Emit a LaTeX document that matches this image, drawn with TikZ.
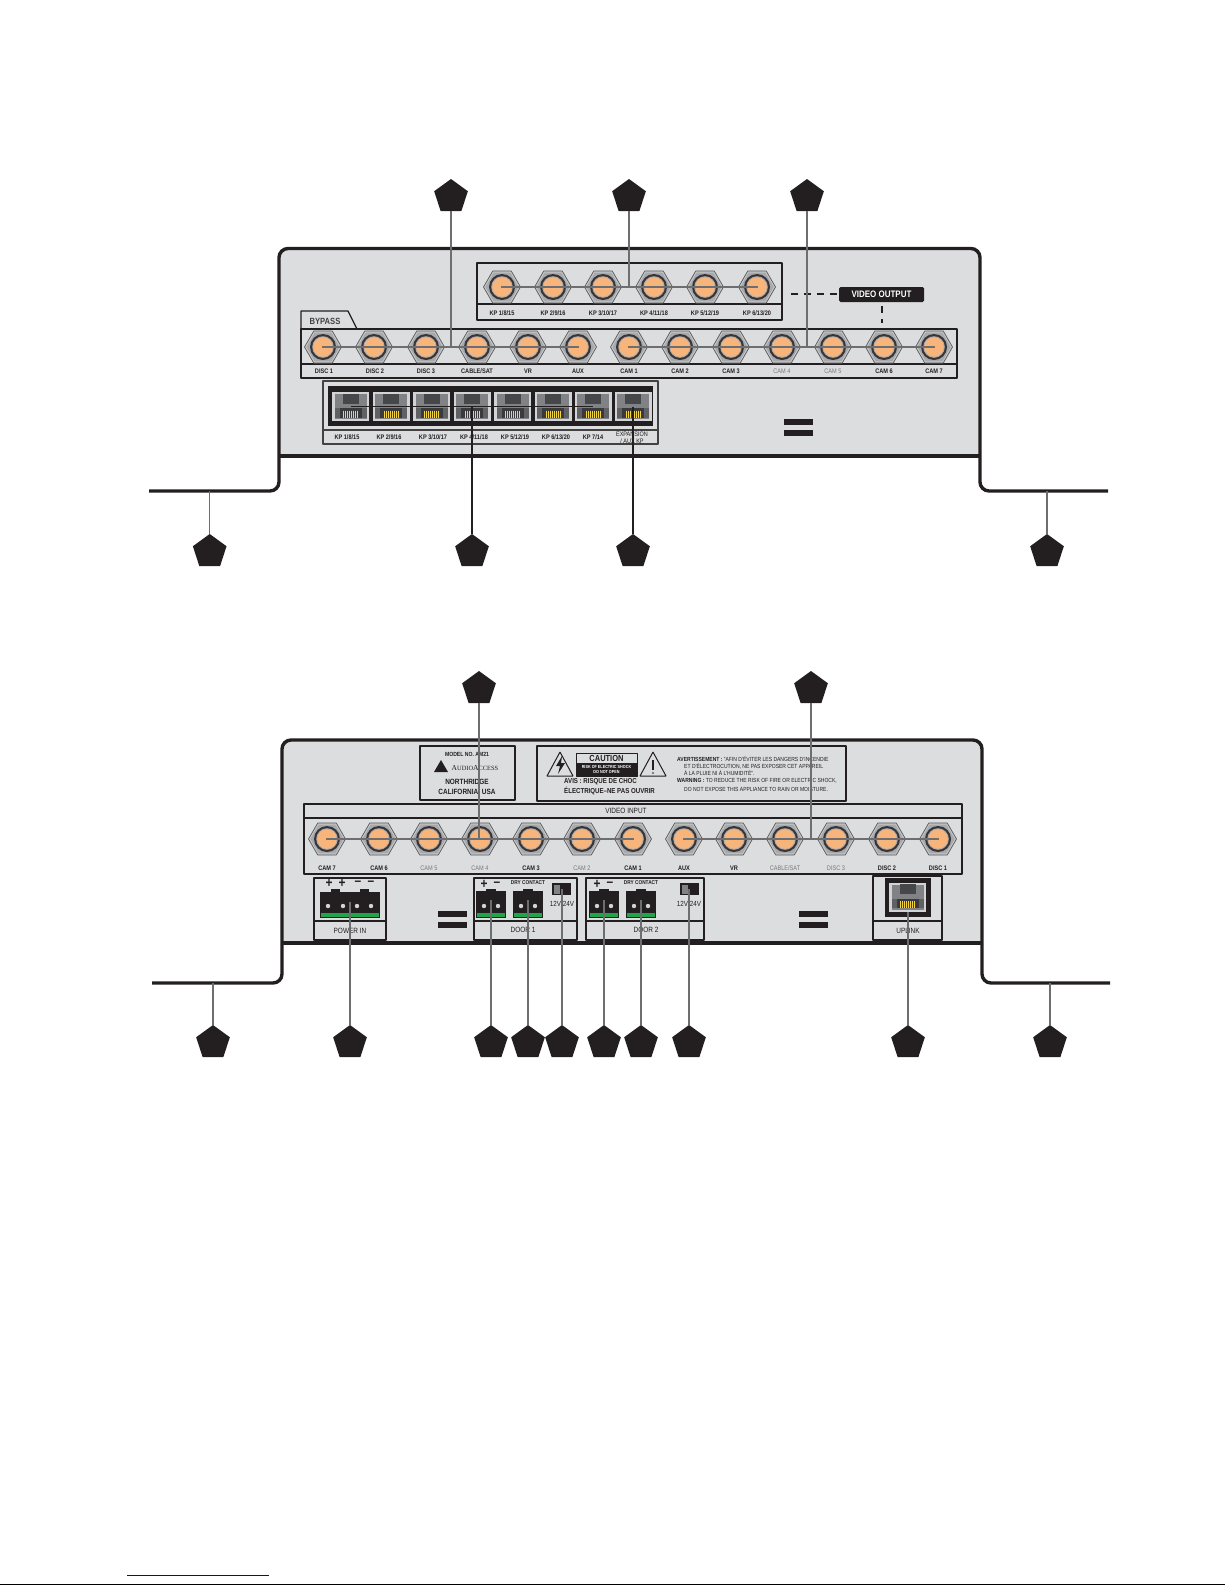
\documentclass[tikz,border=0pt]{standalone}
\usepackage{fontspec}
\setmainfont{Liberation Sans}[FakeStretch=0.85]
\newfontfamily\logofont{Liberation Serif}
\usetikzlibrary{shapes.geometric}
\definecolor{panelgray}{HTML}{DCDDDE}
\definecolor{inkdark}{HTML}{231F20}
\definecolor{leadgray}{HTML}{6D6E71}
\definecolor{nutgray}{HTML}{C4C5C7}
\definecolor{nutface}{HTML}{A7A9AC}
\definecolor{nutedge}{HTML}{58595B}
\definecolor{bncorange}{HTML}{F7B57C}
\definecolor{jackgray}{HTML}{808285}
\definecolor{jackrim}{HTML}{D1D3D4}
\definecolor{termgreen}{HTML}{1FA64A}
\definecolor{pinyellow}{HTML}{F4D63C}
\definecolor{fadetext}{HTML}{77787B}
\tikzset{
  bodyline/.style={line width=3.4pt,draw=inkdark,rounded corners=9pt},
  boxline/.style={line width=1.7pt,draw=inkdark},
  leadline/.style={line width=1.5pt,draw=leadgray},
  blackline/.style={line width=1.5pt,draw=inkdark},
  dashline/.style={line width=2pt,draw=inkdark,dash pattern=on 7pt off 6pt},
  callout/.style={shape=regular polygon,regular polygon sides=5,minimum size=35.4pt,inner sep=0pt,outer sep=0pt,fill=inkdark},
  tag/.style={font=\fontsize{6.6}{7.2}\selectfont\bfseries,text=inkdark,inner sep=0pt,align=center},
  fadetag/.style={font=\fontsize{6.6}{7.2}\selectfont,text=fadetext,inner sep=0pt},
  boxtitle/.style={font=\fontsize{7.6}{9}\selectfont\bfseries,text=inkdark,inner sep=0pt},
  signmark/.style={font=\fontsize{14}{14}\selectfont\bfseries,text=inkdark,inner sep=0pt},
  fineprint/.style={font=\fontsize{5.9}{6.4}\selectfont,text=inkdark,inner sep=0pt,anchor=west},
  bnc/.style={shape=regular polygon,regular polygon sides=6,minimum size=37pt,inner sep=0pt,outer sep=0pt,fill=nutgray,draw=nutedge,line width=0.7pt,
    path picture={
      \begin{scope}[shift={(path picture bounding box.center)}]
        \fill[nutface] (16.6,0) -- (8.3,14.4) -- (-8.3,14.4) -- (-16.6,0) -- (-8.3,-14.4) -- (8.3,-14.4) -- cycle;
        \fill[inkdark!90] (0,0) circle (13pt);
        \fill[nutface] (0,0) circle (10.8pt);
        \fill[bncorange] (0,0) circle (9.8pt);
        \fill[inkdark] (0,0) circle (0.9pt);
      \end{scope}
    }},
  jack/.style={shape=rectangle,minimum width=37pt,minimum height=29pt,inner sep=0pt,outer sep=0pt,fill=jackrim,
    path picture={
      \begin{scope}[shift={(path picture bounding box.center)}]
        \fill[jackgray] (-16,-12.5) rectangle (16,12.5);
        \fill[black!45!jackgray] (-8,-13) rectangle (8,-3);
        \fill[black!25!jackgray] (-16,1.5) rectangle (16,11);
        \fill[black!55!jackgray] (-11,1.5) rectangle (11,11);
        \draw[pinyellow,line width=0.6pt] (-7,4) -- (-7,11) (-5,4) -- (-5,11) (-3,4) -- (-3,11) (-1,4) -- (-1,11) (1,4) -- (1,11) (3,4) -- (3,11) (5,4) -- (5,11) (7,4) -- (7,11);
      \end{scope}
    }},
  dipswitch/.style={shape=rectangle,minimum width=19pt,minimum height=12pt,inner sep=0pt,outer sep=0pt,fill=inkdark,
    path picture={
      \fill[jackgray] ([shift={(-7.5,-4.5)}]path picture bounding box.center) rectangle ([shift={(-1.5,4.5)}]path picture bounding box.center);
    }},
  plugtwo/.pic={
    \fill[inkdark] (-15,-14) rectangle (15,13);
    \fill[inkdark] (-5,-16) rectangle (5,-14);
    \fill[termgreen] (-14,8) rectangle (14,12);
    \fill[jackrim] (-7,1) circle (2.2pt);
    \fill[jackrim] (7,1) circle (2.2pt);
    \coordinate (-tap) at (0,-5);
  },
  plugfour/.pic={
    \fill[inkdark] (-30,-13) rectangle (30,13);
    \fill[inkdark] (-19,-16) rectangle (-10,-13);
    \fill[inkdark] (10,-16) rectangle (19,-13);
    \fill[termgreen] (-29,8) rectangle (29,12);
    \fill[jackrim] (-22,1) circle (2.2pt);
    \fill[jackrim] (-7,1) circle (2.2pt);
    \fill[jackrim] (7,1) circle (2.2pt);
    \fill[jackrim] (21,1) circle (2.2pt);
    \coordinate (-tap) at (0,-3);
  },
}
\begin{document}
\begin{tikzpicture}[x=1pt,y=-1pt,line join=bevel,]
  \useasboundingbox (0,0) rectangle (1225,1585);
%%
  % Body: upper panel
  \fill[panelgray,rounded corners=9pt] (279,456) -- (279,248.5) -- (980,248.5) -- (980,456) -- cycle;
  \fill[panelgray] (279,440) rectangle (980,456);
  \draw[bodyline] (149,491) -- (279,491) -- (279,248.5) -- (980,248.5) -- (980,491) -- (1108,491);
  \draw[line width=3.4pt,draw=inkdark] (279,456) -- (980,456);
  % Node: upper keypad outputs
  \draw[boxline] (477,263) rectangle (782,320);
  \draw[boxline] (477,304) -- (782,304);
  \node[bnc] (outKpA) at (502,287) {};
  \node[bnc] (outKpB) at (553,287) {};
  \node[bnc] (outKpC) at (603,287) {};
  \node[bnc] (outKpD) at (654,287) {};
  \node[bnc] (outKpE) at (705,287) {};
  \node[bnc] (outKpF) at (757,287) {};
  \node[tag] (lblOutKpA) at (502,313) {KP 1/8/15};
  \node[tag] (lblOutKpB) at (553,313) {KP 2/9/16};
  \node[tag] (lblOutKpC) at (603,313) {KP 3/10/17};
  \node[tag] (lblOutKpD) at (654,313) {KP 4/11/18};
  \node[tag] (lblOutKpE) at (705,313) {KP 5/12/19};
  \node[tag] (lblOutKpF) at (757,313) {KP 6/13/20};
  % Node: video output flag
  \node[shape=rectangle,fill=inkdark,rounded corners=1.5pt,minimum width=85pt,minimum height=15pt,inner sep=0pt,text=white,font=\fontsize{9.4}{10}\selectfont\bfseries] (vidOut) at (881.5,294.5) {VIDEO OUTPUT};
  \coordinate (dashLeft) at (788,294);
  \coordinate (dashDown) at (881.5,323);
  \draw[dashline] ([xshift=-2pt,yshift=0.5pt]vidOut.west) -- (dashLeft);
  \draw[dashline] ([yshift=-4pt]vidOut.south) -- (dashDown);
  % Node: bypass row
  \draw[line width=1.2pt,draw=inkdark] (301,329) -- (301,311) -- (348,311) -- (357,329);
  \node[boxtitle,font=\fontsize{9}{10}\selectfont\bfseries,text=inkdark!85] (lblBypass) at (325,321) {BYPASS};
  \draw[boxline] (301,329) rectangle (957,378);
  \draw[boxline] (301,364) -- (957,364);
  \node[bnc] (byDiscA) at (323,347) {};
  \node[bnc] (byDiscB) at (374,347) {};
  \node[bnc] (byDiscC) at (426,347) {};
  \node[bnc] (byCable) at (477,347) {};
  \node[bnc] (byVr) at (528,347) {};
  \node[bnc] (byAux) at (578,347) {};
  \node[bnc] (byCamA) at (629,347) {};
  \node[bnc] (byCamB) at (680,347) {};
  \node[bnc] (byCamC) at (731,347) {};
  \node[bnc] (byCamD) at (782,347) {};
  \node[bnc] (byCamE) at (833,347) {};
  \node[bnc] (byCamF) at (884,347) {};
  \node[bnc] (byCamG) at (934,347) {};
  \node[tag] (lblDiscA) at (324,371) {DISC 1};
  \node[tag] (lblDiscB) at (375,371) {DISC 2};
  \node[tag] (lblDiscC) at (426,371) {DISC 3};
  \node[tag] (lblCable) at (477,371) {CABLE/SAT};
  \node[tag] (lblVr) at (528,371) {VR};
  \node[tag] (lblAux) at (578,371) {AUX};
  \node[tag] (lblCamA) at (629,371) {CAM 1};
  \node[tag] (lblCamB) at (680,371) {CAM 2};
  \node[tag] (lblCamC) at (731,371) {CAM 3};
  \node[fadetag] (lblCamD) at (782,371) {CAM 4};
  \node[fadetag] (lblCamE) at (833,371) {CAM 5};
  \node[tag] (lblCamF) at (884,371) {CAM 6};
  \node[tag] (lblCamG) at (934,371) {CAM 7};
  % Node: keypad sockets
  \draw[line width=1.4pt,draw=inkdark!85] (323,381) rectangle (658,444);
  \draw[line width=1.4pt,draw=inkdark!85] (323,430) -- (658,430);
  \fill[inkdark] (328,386) rectangle (653,426);
  \node[jack] (sockA) at (350.5,406.5) {};
  \node[jack] (sockB) at (391,406.5) {};
  \node[jack] (sockC) at (431.5,406.5) {};
  \node[jack] (sockD) at (472,406.5) {};
  \node[jack] (sockE) at (512.5,406.5) {};
  \node[jack] (sockF) at (553,406.5) {};
  \node[jack] (sockG) at (593,406.5) {};
  \node[jack] (sockH) at (633,406.5) {};
  \node[tag] (lblSockA) at (347,437) {KP 1/8/15};
  \node[tag] (lblSockB) at (389,437) {KP 2/9/16};
  \node[tag] (lblSockC) at (433,437) {KP 3/10/17};
  \node[tag] (lblSockD) at (474,437) {KP 4/11/18};
  \node[tag] (lblSockE) at (515,437) {KP 5/12/19};
  \node[tag] (lblSockF) at (556,437) {KP 6/13/20};
  \node[tag] (lblSockG) at (593,437) {KP 7/14};
  \node[tag,font=\fontsize{6.5}{7}\selectfont] (lblSockH) at (632,437.5) {EXPANSION\\/ AUX KP};
  % Node: upper badge
  \fill[inkdark] (784,419) rectangle (813,425);
  \fill[inkdark] (784,430) rectangle (813,436);
  % Edge: upper rows
  \draw[leadline] (outKpA.center) -- (outKpF.center);
  \draw[leadline] (byDiscA.center) -- (byAux.center);
  \draw[leadline] (byCamA.center) -- (byCamG.center);
  \draw[blackline] (sockA.center) -- (sockG.center);
  % Node: upper callouts
  \node[callout] (callBypass) at (451,196.7) {};
  \node[callout] (callOutKp) at (629,196.7) {};
  \node[callout] (callCam) at (807,196.7) {};
  \node[callout] (callTailL) at (209.7,551.7) {};
  \node[callout] (callSock) at (472,551.7) {};
  \node[callout] (callAux) at (633,551.7) {};
  \node[callout] (callTailR) at (1047,551.7) {};
  \coordinate (tailL) at (209.7,491);
  \coordinate (tailR) at (1047,491);
  % Edge: callBypass -> byDiscC-byCable
  \draw[leadline] (callBypass) -- (callBypass |- byDiscC.center);
  % Edge: callOutKp -> outKpC-outKpD
  \draw[leadline] (callOutKp) -- (callOutKp |- outKpC.center);
  % Edge: callCam -> byCamD-byCamE
  \draw[leadline] (callCam) -- (callCam |- byCamD.center);
  % Edge: callTailL -> tailL
  \draw[leadline] (callTailL) -- (tailL);
  % Edge: callSock -> sockD
  \draw[blackline] (callSock) -- (sockD.center);
  % Edge: callAux -> sockH
  \draw[blackline] (callAux) -- (sockH.center);
  % Edge: callTailR -> tailR
  \draw[leadline] (callTailR) -- (tailR);
%%
  % Body: lower panel
  \fill[panelgray,rounded corners=9pt] (282,943) -- (282,740) -- (982,740) -- (982,943) -- cycle;
  \fill[panelgray] (282,925) rectangle (982,943);
  \draw[bodyline] (152,983) -- (282,983) -- (282,740) -- (982,740) -- (982,983) -- (1110,983);
  \draw[line width=3.4pt,draw=inkdark] (282,943) -- (982,943);
  % Node: model plate
  \draw[boxline] (420,746) rectangle (515,800);
  \node[tag,font=\fontsize{6}{7}\selectfont\bfseries] (lblModel) at (467,754) {MODEL NO. AM21};
  \fill[inkdark] (434,772) -- (441,760) -- (448,772) -- cycle;
  \node[inner sep=0pt,text=inkdark,font=\logofont\fontsize{7.6}{8}\selectfont] (lblMaker) at (475,768) {A{\fontsize{6.4}{7}\selectfont UDIO}A{\fontsize{6.4}{7}\selectfont CCESS}};
  \node[boxtitle] (lblTown) at (467,782) {NORTHRIDGE};
  \node[boxtitle] (lblState) at (467,792) {CALIFORNIA, USA};
  % Node: caution plate
  \draw[boxline] (537,746) rectangle (846,801);
  \draw[line width=1pt,draw=inkdark] (560,752) -- (547,776) -- (573,776) -- cycle;
  \fill[inkdark] (562,756) -- (556,766) -- (560,766) -- (558,774) -- (565,763) -- (561,763) -- cycle;
  \draw[line width=1pt,draw=inkdark] (653,752) -- (640,776) -- (666,776) -- cycle;
  \draw[line width=1.3pt,draw=inkdark] (653,760) -- (653,770);
  \fill[inkdark] (653,773) circle (0.9pt);
  \draw[line width=0.8pt,draw=inkdark] (576,753) rectangle (637,776);
  \fill[inkdark] (576,763) rectangle (637,776);
  \node[boxtitle,font=\fontsize{8.8}{9}\selectfont\bfseries] (lblCaution) at (606.5,758) {CAUTION};
  \node[tag,text=white,font=\fontsize{4.4}{5.4}\selectfont\bfseries] (lblRisk) at (606.5,769.5) {RISK OF ELECTRIC SHOCK\\DO NOT OPEN};
  \node[fineprint,font=\fontsize{7.2}{8}\selectfont\bfseries] (lblAvis) at (564,782) {AVIS : RISQUE DE CHOC};
  \node[fineprint,font=\fontsize{7.2}{8}\selectfont\bfseries] (lblOuvrir) at (564,791) {ÉLECTRIQUE–NE PAS OUVRIR};
  \node[fineprint] (lblAvertA) at (677,759) {{\bfseries AVERTISSEMENT :} "AFIN D'ÉVITER LES DANGERS D'INCENDIE};
  \node[fineprint] (lblAvertB) at (684,766) {ET D'ÉLECTROCUTION, NE PAS EXPOSER CET APPAREIL};
  \node[fineprint] (lblAvertC) at (684,773) {À LA PLUIE NI À L'HUMIDITÉ".};
  \node[fineprint] (lblWarnA) at (677,781) {{\bfseries WARNING :} TO REDUCE THE RISK OF FIRE OR ELECTRIC SHOCK,};
  \node[fineprint] (lblWarnB) at (684,789) {DO NOT EXPOSE THIS APPLIANCE TO RAIN OR MOISTURE.};
  % Node: video input row
  \draw[boxline] (304,804) rectangle (962,874);
  \draw[boxline] (304,818) -- (962,818);
  \node[tag,font=\fontsize{7.6}{8}\selectfont] (lblInput) at (626,811) {VIDEO INPUT};
  \node[bnc] (inCamG) at (327,839) {};
  \node[bnc] (inCamF) at (379,839) {};
  \node[bnc] (inCamE) at (429,839) {};
  \node[bnc] (inCamD) at (480,839) {};
  \node[bnc] (inCamC) at (531,839) {};
  \node[bnc] (inCamB) at (582,839) {};
  \node[bnc] (inCamA) at (633,839) {};
  \node[bnc] (inAux) at (684,839) {};
  \node[bnc] (inVr) at (734,839) {};
  \node[bnc] (inCable) at (785,839) {};
  \node[bnc] (inDiscC) at (836,839) {};
  \node[bnc] (inDiscB) at (887,839) {};
  \node[bnc] (inDiscA) at (938,839) {};
  \node[tag] (tagCamG) at (327,868) {CAM 7};
  \node[tag] (tagCamF) at (379,868) {CAM 6};
  \node[fadetag] (tagCamE) at (429,868) {CAM 5};
  \node[fadetag] (tagCamD) at (480,868) {CAM 4};
  \node[tag] (tagCamC) at (531,868) {CAM 3};
  \node[fadetag] (tagCamB) at (582,868) {CAM 2};
  \node[tag] (tagCamA) at (633,868) {CAM 1};
  \node[tag] (tagAux) at (684,868) {AUX};
  \node[tag] (tagVr) at (734,868) {VR};
  \node[fadetag] (tagCable) at (785,868) {CABLE/SAT};
  \node[fadetag] (tagDiscC) at (836,868) {DISC 3};
  \node[tag] (tagDiscB) at (887,868) {DISC 2};
  \node[tag] (tagDiscA) at (938,868) {DISC 1};
  % Node: power in
  \draw[boxline] (314,878) rectangle (386,940);
  \draw[boxline] (314,921) -- (386,921);
  \pic (plugPower) at (350,905) {plugfour};
  \node[signmark] (signPa) at (329,883) {+};
  \node[signmark] (signPb) at (342,883) {+};
  \node[signmark] (signPc) at (358,883) {–};
  \node[signmark] (signPd) at (371,883) {–};
  \node[tag,font=\fontsize{7.6}{8}\selectfont] (lblPower) at (350,931) {POWER IN};
  % Node: door 1
  \draw[boxline] (474,878) rectangle (577,940);
  \draw[boxline] (474,921) -- (577,921);
  \pic (plugDoorA) at (491,905) {plugtwo};
  \pic (plugDryA) at (528,905) {plugtwo};
  \node[signmark] (signAa) at (484,884) {+};
  \node[signmark] (signAb) at (497,884) {–};
  \node[tag,font=\fontsize{5.6}{6}\selectfont\bfseries] (lblDryA) at (528,883) {DRY CONTACT};
  \node[dipswitch] (swA) at (561.5,889) {};
  \node[tag,font=\fontsize{7.4}{8}\selectfont] (lblVoltA) at (562,904) {12V 24V};
  \node[tag,font=\fontsize{7.6}{8}\selectfont] (lblDoorA) at (523,930) {DOOR 1};
  % Node: door 2
  \draw[boxline] (586,878) rectangle (704,940);
  \draw[boxline] (586,921) -- (704,921);
  \pic (plugDoorB) at (604,905) {plugtwo};
  \pic (plugDryB) at (641,905) {plugtwo};
  \node[signmark] (signBa) at (597,884) {+};
  \node[signmark] (signBb) at (610,884) {–};
  \node[tag,font=\fontsize{5.6}{6}\selectfont\bfseries] (lblDryB) at (641,883) {DRY CONTACT};
  \node[dipswitch] (swB) at (689.5,889) {};
  \node[tag,font=\fontsize{7.4}{8}\selectfont] (lblVoltB) at (689,904) {12V 24V};
  \node[tag,font=\fontsize{7.6}{8}\selectfont] (lblDoorB) at (646,930) {DOOR 2};
  % Node: uplink
  \draw[boxline] (873,876) rectangle (942,940);
  \draw[boxline] (873,921) -- (942,921);
  \fill[inkdark] (885,878) rectangle (931,917);
  \node[jack] (sockUp) at (907.5,897) {};
  \node[tag,font=\fontsize{7.6}{8}\selectfont] (lblUp) at (908,931) {UPLINK};
  % Node: lower badges
  \fill[inkdark] (438,911) rectangle (467,917);
  \fill[inkdark] (438,922) rectangle (467,928);
  \fill[inkdark] (799,911) rectangle (828,917);
  \fill[inkdark] (799,922) rectangle (828,928);
  % Edge: lower rows
  \draw[leadline] (inCamG.center) -- (inCamA.center);
  \draw[leadline] (inAux.center) -- (inDiscA.center);
  % Node: lower callouts
  \node[callout] (callInCam) at (479,688.7) {};
  \node[callout] (callInDisc) at (811,688.7) {};
  \node[callout] (callTailM) at (213,1042.7) {};
  \node[callout] (callPower) at (350,1042.7) {};
  \node[callout] (callDoorA) at (491,1042.7) {};
  \node[callout] (callDryA) at (528,1042.7) {};
  \node[callout] (callSwA) at (562,1042.7) {};
  \node[callout] (callDoorB) at (604,1042.7) {};
  \node[callout] (callDryB) at (641,1042.7) {};
  \node[callout] (callSwB) at (689,1042.7) {};
  \node[callout] (callUp) at (908,1042.7) {};
  \node[callout] (callTailN) at (1050,1042.7) {};
  \coordinate (tailM) at (213,983);
  \coordinate (tailN) at (1050,983);
  % Edge: callInCam -> inCamD
  \draw[leadline] (callInCam) -- (callInCam |- inCamD.center);
  % Edge: callInDisc -> inCable-inDiscC
  \draw[leadline] (callInDisc) -- (callInDisc |- inCable.center);
  % Edge: callTailM -> tailM
  \draw[leadline] (callTailM) -- (tailM);
  % Edge: callPower -> plugPower
  \draw[leadline] (callPower) -- (plugPower-tap);
  % Edge: callDoorA -> plugDoorA
  \draw[leadline] (callDoorA) -- (plugDoorA-tap);
  % Edge: callDryA -> plugDryA
  \draw[leadline] (callDryA) -- (plugDryA-tap);
  % Edge: callSwA -> swA
  \draw[leadline] (callSwA) -- (callSwA |- swA.center);
  % Edge: callDoorB -> plugDoorB
  \draw[leadline] (callDoorB) -- (plugDoorB-tap);
  % Edge: callDryB -> plugDryB
  \draw[leadline] (callDryB) -- (plugDryB-tap);
  % Edge: callSwB -> swB
  \draw[leadline] (callSwB) -- (callSwB |- swB.center);
  % Edge: callUp -> sockUp
  \draw[leadline] (callUp) -- (callUp |- sockUp.south);
  % Edge: callTailN -> tailN
  \draw[leadline] (callTailN) -- (tailN);
%%
  % Page foot
  \draw[line width=1.3pt,draw=blue!85!black] (127,1575.5) -- (269,1575.5);
  \draw[line width=1.5pt,draw=black] (0,1584.4) -- (1225,1584.4);
%
\end{tikzpicture}
\end{document}
